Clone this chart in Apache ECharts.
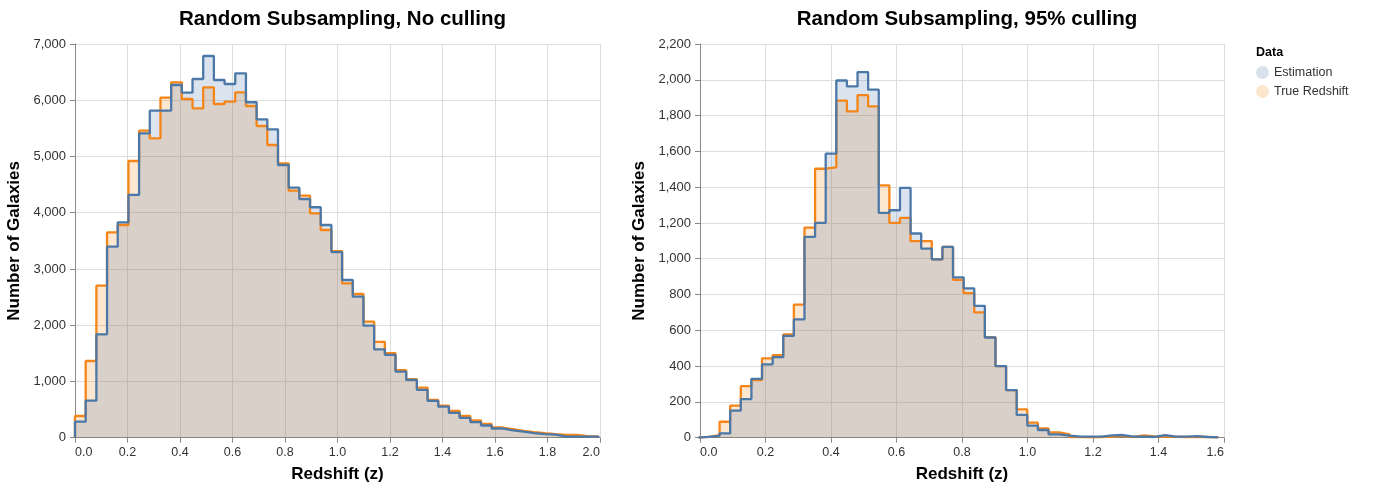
<!DOCTYPE html>
<html>
<head>
<meta charset="utf-8">
<script src="https://cdn.jsdelivr.net/npm/echarts@6/dist/echarts.min.js"></script>
<style>
html,body{margin:0;padding:0;background:#fff;}
#chart{width:1380px;height:485px;}
</style>
</head>
<body>
<div id="chart"></div>
<script>
// ---- data ----
const leftTitle = 'Random Subsampling, No culling';
const rightTitle = 'Random Subsampling, 95% culling';
const seriesNames = ['Estimation', 'True Redshift'];

// Left panel: 49 bins starting at z = 0
const leftBinStart = 0;
const leftBinWidth = 0.0407;
const leftEstimation = [285, 658, 1838, 3396, 3830, 4316, 5412, 5815, 5815, 6271,
  6135, 6378, 6787, 6360, 6289, 6479, 5964, 5661, 5483, 4849,
  4445, 4244, 4097, 3782, 3300, 2804, 2508, 1992, 1571, 1473,
  1176, 1028, 850, 654, 552, 440, 351, 277, 217, 164,
  131, 107, 83, 63, 54, 19, 19, 19, 18];
const leftTrue = [386, 1364, 2703, 3652, 3782, 4920, 5459, 5323, 6046, 6319,
  6022, 5857, 6230, 5933, 5975, 6141, 5898, 5542, 5204, 4879,
  4392, 4303, 3990, 3693, 3318, 2745, 2555, 2063, 1705, 1503,
  1200, 1043, 890, 671, 570, 476, 387, 309, 244, 181,
  152, 122, 98, 80, 65, 51, 48, 28, 17];

// Right panel: 49 bins starting at z = -0.005
const rightBinStart = -0.005;
const rightBinWidth = 0.0324;
const rightEstimation = [5, 10, 24, 151, 216, 329, 410, 450, 569, 661,
  1122, 1200, 1587, 1996, 1963, 2043, 1945, 1256, 1271, 1396,
  1141, 1057, 997, 1066, 896, 834, 737, 560, 400, 266,
  127, 67, 43, 19, 11, 6, 6, 6, 13, 15,
  6, 6, 4, 15, 6, 6, 9, 4, 2];
const rightTrue = [5, 15, 89, 179, 288, 322, 443, 461, 577, 744,
  1174, 1503, 1510, 1884, 1823, 1914, 1851, 1410, 1200, 1228,
  1098, 1098, 997, 1066, 882, 808, 700, 562, 400, 266,
  158, 84, 52, 30, 19, 3, 2, 4, 6, 10,
  4, 13, 7, 6, 5, 4, 3, 4, 2];

// axis ranges / ticks
const leftX = {min: 0, max: 2.0, interval: 0.2};
const rightX = {min: 0, max: 1.6, interval: 0.2};
const leftY = {min: 0, max: 7000, interval: 1000};
const rightY = {min: 0, max: 2200, interval: 200};

const blue = '#4c78a8';
const orange = '#f58518';

function stepData(start, width, values) {
  const pts = [[start, 0]];
  values.forEach((v, i) => pts.push([start + i * width, v]));
  const end = start + values.length * width;
  pts.push([end, values[values.length - 1]]);
  pts.push([end, 0]);
  return pts;
}

const font = '"Liberation Sans", Arial, Helvetica, sans-serif';

function xAxis(idx, r) {
  return {
    type: 'value', gridIndex: idx, min: r.min, max: r.max, interval: r.interval,
    name: 'Redshift (z)', nameLocation: 'middle', nameGap: 28,
    nameTextStyle: {fontFamily: font, fontWeight: 'bold', fontSize: 17, color: '#000'},
    axisLine: {show: true, onZero: false, lineStyle: {color: '#888', width: 1}},
    axisTick: {show: true, length: 5, lineStyle: {color: '#888'}},
    axisLabel: {fontFamily: font, fontSize: 12.5, color: '#333', margin: 8,
      formatter: v => v.toFixed(1), alignMinLabel: 'left', alignMaxLabel: 'right'},
    splitLine: {show: true, lineStyle: {color: '#ddd', width: 1}}
  };
}
function yAxis(idx, r) {
  return {
    type: 'value', gridIndex: idx, min: r.min, max: r.max, interval: r.interval,
    name: 'Number of Galaxies', nameLocation: 'middle', nameGap: 52, nameRotate: 90,
    nameTextStyle: {fontFamily: font, fontWeight: 'bold', fontSize: 17, color: '#000'},
    axisLine: {show: true, lineStyle: {color: '#888', width: 1}},
    axisTick: {show: true, length: 5, lineStyle: {color: '#888'}},
    axisLabel: {fontFamily: font, fontSize: 13, color: '#333', margin: 9},
    splitLine: {show: true, lineStyle: {color: '#ddd', width: 1}}
  };
}
function stepSeries(name, color, idx, data) {
  return {
    name: name, type: 'line', step: 'end', xAxisIndex: idx, yAxisIndex: idx,
    data: data, showSymbol: false, symbol: 'none', animation: false,
    lineStyle: {color: color, width: 2.3},
    itemStyle: {color: color},
    areaStyle: {color: color, opacity: 0.2}
  };
}

const chart = echarts.init(document.getElementById('chart'), null, {renderer: 'canvas'});
chart.setOption({
  animation: false,
  backgroundColor: '#fff',
  title: [
    {text: leftTitle, left: 337.5, top: 4, textAlign: 'center',
      textStyle: {fontFamily: font, fontWeight: 'bold', fontSize: 20.5, color: '#000'}},
    {text: rightTitle, left: 962, top: 4, textAlign: 'center',
      textStyle: {fontFamily: font, fontWeight: 'bold', fontSize: 20.5, color: '#000'}},
    {text: 'Data', left: 1251, top: 41,
      textStyle: {fontFamily: font, fontWeight: 'bold', fontSize: 12.5, color: '#000'}}
  ],
  legend: {
    orient: 'vertical', left: 1251, top: 61, itemGap: 6, itemWidth: 13, itemHeight: 13,
    icon: 'circle', selectedMode: false,
    textStyle: {fontFamily: font, fontSize: 12.5, color: '#333'},
    data: [
      {name: seriesNames[0], itemStyle: {color: 'rgba(76,120,168,0.22)', borderColor: 'rgba(76,120,168,0.15)'}},
      {name: seriesNames[1], itemStyle: {color: 'rgba(245,133,24,0.22)', borderColor: 'rgba(245,133,24,0.15)'}}
    ]
  },
  grid: [
    {left: 75, top: 44, width: 525, height: 393.7, containLabel: false, outerBoundsMode: 'none'},
    {left: 700, top: 44, width: 524, height: 393.7, containLabel: false, outerBoundsMode: 'none'}
  ],
  xAxis: [xAxis(0, leftX), xAxis(1, rightX)],
  yAxis: [yAxis(0, leftY), yAxis(1, rightY)],
  series: [
    stepSeries(seriesNames[1], orange, 0, stepData(leftBinStart, leftBinWidth, leftTrue)),
    stepSeries(seriesNames[0], blue, 0, stepData(leftBinStart, leftBinWidth, leftEstimation)),
    stepSeries(seriesNames[1], orange, 1, stepData(rightBinStart, rightBinWidth, rightTrue)),
    stepSeries(seriesNames[0], blue, 1, stepData(rightBinStart, rightBinWidth, rightEstimation))
  ]
});
</script>
</body>
</html>
